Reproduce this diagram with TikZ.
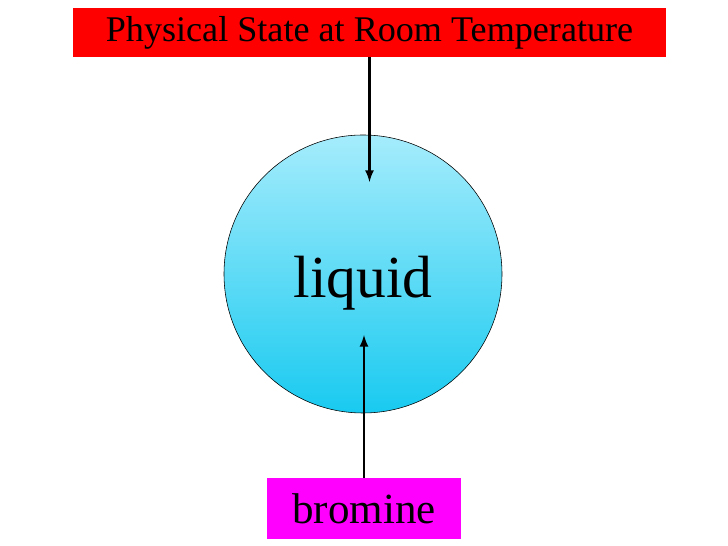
\documentclass[tikz,border=0pt]{standalone}
\usepackage{fontspec}
\setmainfont{Liberation Serif}
\definecolor{balltop}{RGB}{165,236,252}
\definecolor{ballbottom}{RGB}{25,202,240}
\definecolor{boxred}{RGB}{255,0,0}
\definecolor{boxmagenta}{RGB}{255,0,255}

\begin{document}
\begin{tikzpicture}
        \useasboundingbox (0,0) rectangle (18.2,13.65);

        \node[fill=boxred, minimum width=14.825cm, minimum height=1.225cm, inner sep=0pt,
            font=\fontsize{25.7}{30}\selectfont] (title) at (9.2375, 12.8375)
            {Physical State at Room Temperature};
        \node[circle, draw=black, thin, minimum size=6.95cm, top color=balltop, bottom color=ballbottom]
            (ball) at (9.075, 6.8) {};
        \node[anchor=base, inner sep=0pt, font=\fontsize{42.4}{48}\selectfont] (liquid) at (9.075, 6.2)
            {liquid};
        \node[fill=boxmagenta, minimum width=4.85cm, minimum height=1.525cm, inner sep=0pt,
            font=\fontsize{30.6}{36}\selectfont] (bromine) at (9.1, 0.9375)
            {bromine};

        \coordinate (topend) at (9.2375, 9.1);
        \coordinate (botend) at (9.1, 5.275);
        \draw[-latex, line width=1.8pt] (title.south) -- (topend);
        \draw[-latex, line width=1.8pt] (bromine.north) -- (botend);
    \end{tikzpicture}
\end{document}
